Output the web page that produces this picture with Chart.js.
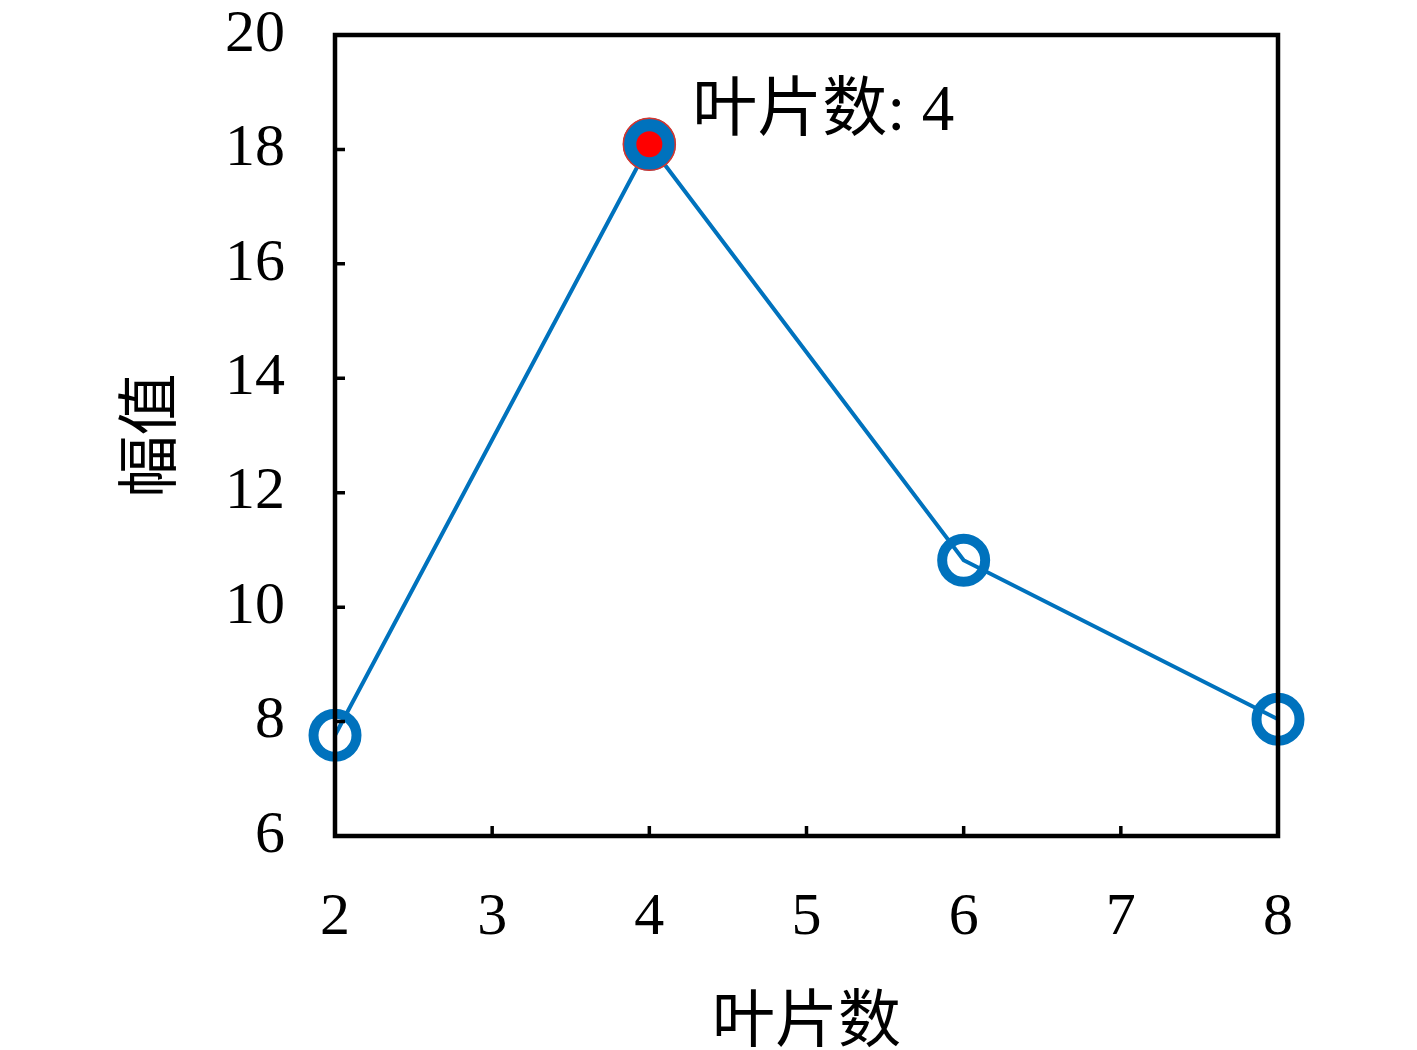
<!DOCTYPE html>
<html>
<head>
<meta charset="utf-8">
<script src="https://cdn.jsdelivr.net/npm/chart.js@4.4.1/dist/chart.umd.min.js"></script>
<style>
  html, body { margin: 0; padding: 0; background: #fff; }
  #wrap { width: 1417px; height: 1050px; }
</style>
</head>
<body>
<div id="wrap"><canvas id="chart"></canvas></div>
<script>
const bladeCounts = [2, 4, 6, 8]
const amplitudes = [7.76, 18.09, 10.82, 8.04]
const xTicks = [2, 3, 4, 5, 6, 7, 8]
const yTicks = [6, 8, 10, 12, 14, 16, 18, 20]
const peakIndex = 1
const peakLabel = '叶片数: ' + bladeCounts[peakIndex]

const BLUE = '#0072BD'
const SERIF = '"Liberation Serif", "Noto Sans CJK SC", serif'

// box round the axes plus inward tick marks
const boxPlugin = {
  id: 'box',
  afterDraw(chart) {
    const { ctx, chartArea: a, scales } = chart
    ctx.save()
    ctx.strokeStyle = '#000'
    ctx.lineWidth = 4.5
    ctx.lineJoin = 'miter'
    ctx.strokeRect(a.left, a.top, a.right - a.left, a.bottom - a.top)
    ctx.lineWidth = 3.5
    ctx.beginPath()
    xTicks.forEach(v => {
      const x = scales.x.getPixelForValue(v)
      ctx.moveTo(x, a.bottom)
      ctx.lineTo(x, a.bottom - 10)
    })
    yTicks.forEach(v => {
      const y = scales.y.getPixelForValue(v)
      ctx.moveTo(a.left, y)
      ctx.lineTo(a.left + 10, y)
    })
    ctx.stroke()
    ctx.restore()
  }
}

const labelPlugin = {
  id: 'peakLabel',
  afterDatasetsDraw(chart) {
    const { ctx, scales } = chart
    const x = scales.x.getPixelForValue(bladeCounts[peakIndex])
    const y = scales.y.getPixelForValue(amplitudes[peakIndex])
    ctx.save()
    ctx.fillStyle = '#000'
    ctx.font = '65px ' + SERIF
    ctx.textBaseline = 'alphabetic'
    ctx.fillText(peakLabel, x + 43, y - 14)
    ctx.restore()
  }
}

new Chart(document.getElementById('chart'), {
  type: 'scatter',
  data: {
    datasets: [
      {
        data: bladeCounts.map((b, i) => ({ x: b, y: amplitudes[i] })),
        showLine: true,
        borderColor: BLUE,
        borderWidth: 4,
        pointRadius: 21.5,
        pointBorderWidth: 10,
        pointBorderColor: BLUE,
        pointBackgroundColor: bladeCounts.map((b, i) => i === peakIndex ? BLUE : 'rgba(0,0,0,0)'),
        clip: false,
        order: 3,
      },
      {
        data: [{ x: bladeCounts[peakIndex], y: amplitudes[peakIndex] }],
        pointRadius: 26,
        pointBorderWidth: 1.5,
        pointBorderColor: '#D9342B',
        pointBackgroundColor: 'rgba(0,0,0,0)',
        order: 2,
      },
      {
        data: [{ x: bladeCounts[peakIndex], y: amplitudes[peakIndex] }],
        pointRadius: 13,
        pointBorderWidth: 0,
        pointBackgroundColor: '#FF0000',
        order: 1,
      },
    ],
  },
  options: {
    responsive: true,
    maintainAspectRatio: false,
    animation: false,
    layout: { padding: { top: 35, right: 139, bottom: 0, left: 118 } },
    plugins: { legend: { display: false }, tooltip: { enabled: false } },
    scales: {
      x: {
        type: 'linear',
        min: 2,
        max: 8,
        grid: { display: false },
        border: { display: false },
        afterBuildTicks: s => { s.ticks = xTicks.map(v => ({ value: v })) },
        afterFit: s => { s.height = 214; s.paddingLeft = 0; s.paddingRight = 0 },
        ticks: { color: '#000', font: { family: SERIF, size: 60 }, padding: 38 },
        title: {
          display: true,
          text: '叶片数',
          color: '#000',
          font: { family: SERIF, size: 63 },
          padding: { top: 0, bottom: -12 },
        },
      },
      y: {
        type: 'linear',
        min: 6,
        max: 20,
        grid: { display: false },
        border: { display: false },
        afterBuildTicks: s => { s.ticks = yTicks.map(v => ({ value: v })) },
        afterFit: s => { s.width = 217; s.paddingTop = 0; s.paddingBottom = 0 },
        ticks: { color: '#000', font: { family: SERIF, size: 60 }, padding: 42 },
        title: {
          display: true,
          text: '幅值',
          color: '#000',
          font: { family: SERIF, size: 62 },
          padding: { top: 0, bottom: 0 },
        },
      },
    },
  },
  plugins: [boxPlugin, labelPlugin],
})
</script>
</body>
</html>
